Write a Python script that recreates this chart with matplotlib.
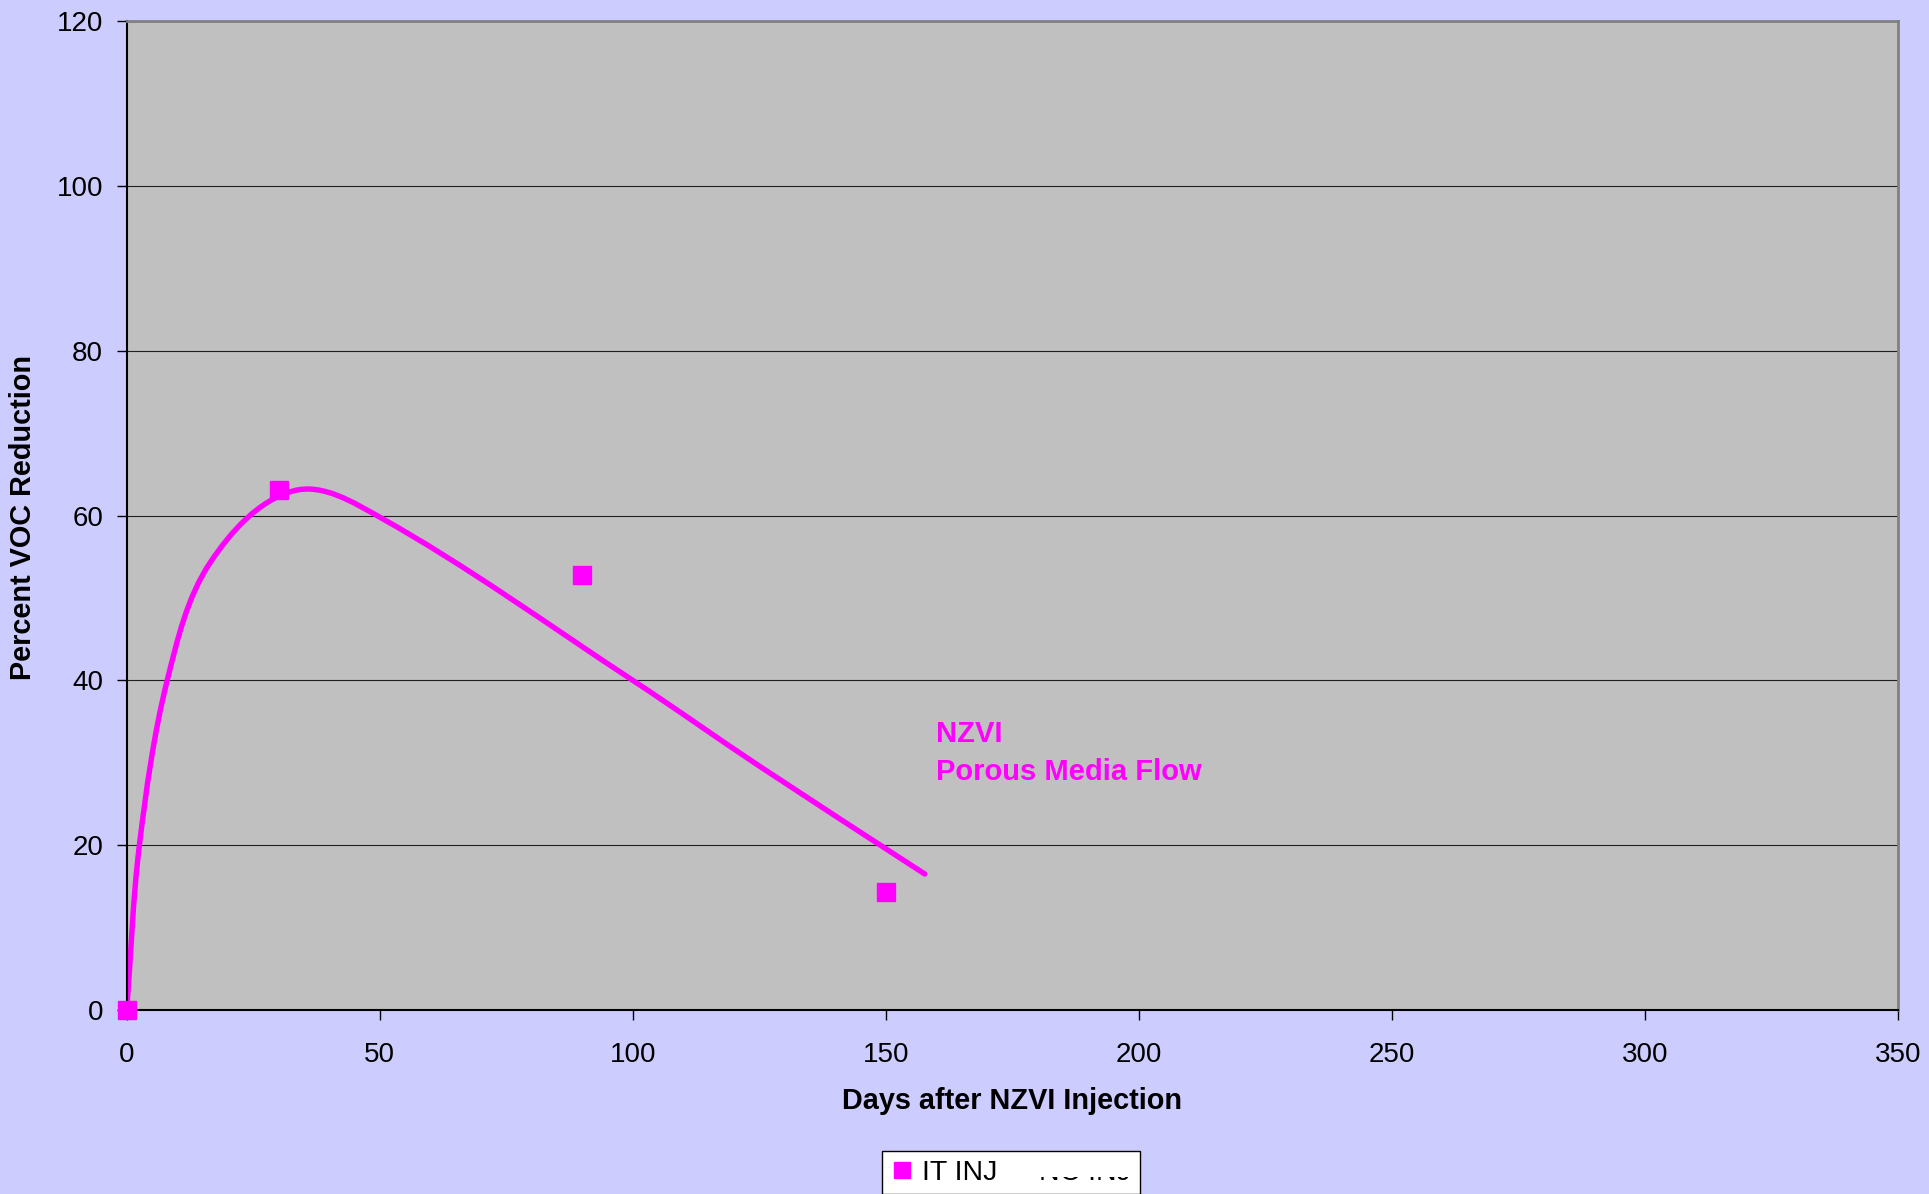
import matplotlib
matplotlib.use('Agg')
import matplotlib.pyplot as plt
import numpy as np
from matplotlib.lines import Line2D
from matplotlib.path import Path
from matplotlib.patches import PathPatch
from matplotlib.transforms import Bbox

# Measured points (IT INJ) and the hand-traced trend curve
days = [0, 30, 90, 150]
voc_red = [0, 63.1, 52.8, 14.3]

curve_days = [0, 2.5, 8.0, 16.5, 33.0, 50, 100, 125, 157.7]
curve_red = [0, 20, 40, 54.3, 63.0, 59.8, 40.0, 29.6, 16.5]

x_ticks = [0, 50, 100, 150, 200, 250, 300, 350]
y_ticks = [0, 20, 40, 60, 80, 100, 120]

MAGENTA = '#FF00FF'


def smooth_path(xs, ys, sx=5.06, sy=8.24):
    # cubic bezier through the traced points (like Excel's smoothed line)
    scale = np.array([sx, sy])
    p = np.column_stack([xs, ys]).astype(float) * scale
    n = len(p)
    d = np.empty_like(p)
    for i in range(n):
        v = p[min(i + 1, n - 1)] - p[max(i - 1, 0)]
        d[i] = v / np.hypot(*v)
    verts = [p[0]]
    codes = [Path.MOVETO]
    for i in range(n - 1):
        h = np.hypot(*(p[i + 1] - p[i]))
        verts += [p[i] + d[i] * h / 3, p[i + 1] - d[i + 1] * h / 3, p[i + 1]]
        codes += [Path.CURVE4] * 3
    return Path(np.array(verts) / scale, codes)


plt.rcParams.update({
    'font.family': 'Liberation Sans',
    'font.size': 20,
})

fig = plt.figure(figsize=(19.29, 11.94), dpi=100, facecolor='#CCCCFF')
ax = fig.add_axes([0.0657, 0.1541, 0.9182, 0.8283], facecolor='#C0C0C0')

ax.add_patch(PathPatch(smooth_path(curve_days, curve_red), facecolor='none',
                       edgecolor=MAGENTA, linewidth=3.9, capstyle='round',
                       joinstyle='round', zorder=2))
ax.plot(days, voc_red, 's', color=MAGENTA, markersize=12.5, linestyle='none',
        clip_on=False, zorder=3)

ax.text(159.9, 35.2, 'NZVI\nPorous Media Flow', color=MAGENTA,
        fontsize=21, fontweight='bold', ha='left', va='top', linespacing=1.45)

ax.set_xlim(0, 350)
ax.set_ylim(0, 120)
ax.set_xticks(x_ticks)
ax.set_yticks(y_ticks)
ax.tick_params(axis='both', direction='out', length=7, width=1, color='black',
               labelsize=20)
ax.tick_params(axis='x', pad=16)
ax.tick_params(axis='y', pad=10)
ax.yaxis.grid(True, color='#202020', linewidth=0.8)
ax.set_axisbelow(True)

for side in ('left', 'bottom'):
    ax.spines[side].set_color('black')
    ax.spines[side].set_linewidth(1.5)
for side in ('top', 'right'):
    ax.spines[side].set_color('#808080')
    ax.spines[side].set_linewidth(2)

fig.text(23 / 1929, 1 - 517 / 1194, 'Percent VOC Reduction', rotation=90,
         ha='center', va='center', fontsize=20.8, fontweight='bold')
fig.text(1012 / 1929, 1 - 1101 / 1194, 'Days after NZVI Injection',
         ha='center', va='center', fontsize=20.8, fontweight='bold')

handles = [
    Line2D([], [], marker='s', color=MAGENTA, linestyle='none', markersize=12),
    Line2D([], [], linestyle='none'),
]
leg = fig.legend(handles, ['IT INJ', 'NC INJ'], loc='upper left',
                 bbox_to_anchor=(882 / 1929, 1 - 1151 / 1194), ncol=2,
                 fontsize=20.5, frameon=True, fancybox=False, borderpad=0.3,
                 borderaxespad=0, handlelength=0.8, handletextpad=0.3,
                 columnspacing=0.37)
leg.get_frame().set_facecolor('white')
leg.get_frame().set_edgecolor('black')
leg.get_frame().set_linewidth(1)
leg.get_frame().set_alpha(1)

# only the lower part of the second entry shows in the original
nc_text = leg.get_texts()[1]
nc_text.set_clip_box(Bbox([[1000, 0], [1160, 1194 - 1177]]))
nc_text.set_clip_on(True)

fig.savefig('out.png', dpi=100, facecolor=fig.get_facecolor())
